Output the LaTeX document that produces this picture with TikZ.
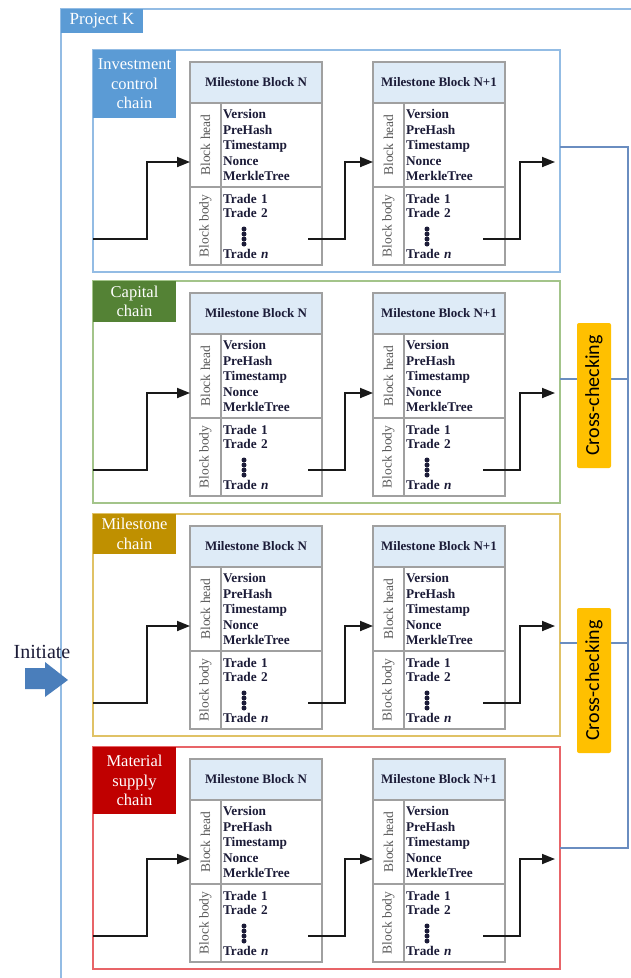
\documentclass[tikz,border=0pt]{standalone}
\usepackage{fontspec}
\setmainfont{Liberation Serif}
\newfontfamily\calfont{Carlito}
\usetikzlibrary{arrows.meta}

\definecolor{frameblue}{HTML}{93BCE4}
\definecolor{tagblue}{HTML}{5B9BD5}
\definecolor{capborder}{HTML}{A3C48A}
\definecolor{captag}{HTML}{548235}
\definecolor{msborder}{HTML}{E0C266}
\definecolor{mstag}{HTML}{BF9000}
\definecolor{matborder}{HTML}{E86468}
\definecolor{mattag}{HTML}{C00000}
\definecolor{linkblue}{HTML}{6A8DC0}
\definecolor{checkorange}{HTML}{FFC000}
\definecolor{hdrfill}{HTML}{DEEBF7}
\definecolor{blockgray}{HTML}{A0A0A0}
\definecolor{sidegray}{HTML}{5A5A5A}
\definecolor{ink}{HTML}{1C1C38}
\definecolor{arrowblue}{HTML}{4A7EBB}

\tikzset{
  every node/.style={inner sep=0pt, outer sep=0pt},
  chainbox/.style={draw=#1, line width=1.6pt, minimum width=467pt,
    minimum height=222pt, anchor=north west},
  chaintag/.style={fill=#1, text=white, anchor=north west, minimum width=83pt,
    align=center, font=\fontsize{16.5}{19.5}\selectfont},
  hdr/.style={draw=blockgray, fill=hdrfill, line width=1.3pt, minimum width=132pt,
    minimum height=41pt, anchor=north west, text=ink,
    font=\bfseries\fontsize{13}{15}\selectfont},
  side/.style={draw=blockgray, line width=1.3pt, minimum width=31pt,
    anchor=north west, text=sidegray, font=\fontsize{13.5}{15}\selectfont},
  fields/.style={draw=blockgray, line width=1.3pt, minimum width=101pt,
    text width=97pt, align=left, anchor=north west, text=ink,
    font=\bfseries\fontsize{13.3}{15.5}\selectfont},
  flow/.style={line width=1.8pt, draw=black!90, -{Triangle[length=13pt,width=10pt]}},
  link/.style={draw=linkblue, line width=1.5pt},
  check/.style={fill=checkorange, rounded corners=2pt, minimum width=145pt,
    minimum height=34pt, font=\calfont\fontsize{20}{24}\selectfont},
}

% one milestone block: #1 name, #2 left x, #3 top y, #4 title
\newcommand\msblock[4]{%
  \node[hdr] (#1-hdr) at (#2,#3) {#4};
  \node[side, minimum height=84pt] (#1-hl) at (#2,#3+41) {\rotatebox{90}{Block head}};
  \node[fields, minimum height=84pt] (#1-hf) at (#2+31,#3+41)
    {Version\\PreHash\\Timestamp\\Nonce\\MerkleTree};
  \node[side, minimum height=78pt] (#1-bl) at (#2,#3+125) {\rotatebox{90}{Block body}};
  \node[fields, minimum height=78pt, font=\bfseries\fontsize{13.3}{14.5}\selectfont]
    (#1-bf) at (#2+31,#3+125) {Trade 1\\Trade 2\\[26pt]Trade \textit{n}};
  \foreach \k in {0,...,3}
    \fill[ink] ([shift={(23,42+5*\k)}]#1-bf.north west) circle (2.5pt);
}

% one chain: #1 name, #2 top y, #3 border, #4 tag fill, #5 tag height, #6 tag text
\newcommand\mychain[6]{%
  \node[chainbox=#3] (#1-box) at (93,#2) {};
  \node[chaintag=#4, minimum height=#5pt] (#1-tag) at (93,#2) {#6};
  \msblock{#1-n}{190}{#2+12}{Milestone Block N}
  \msblock{#1-m}{373}{#2+12}{Milestone Block N+1}
  \coordinate (#1-in) at (93,#2+189);
  \coordinate (#1-o1) at (308,#2+189);
  \coordinate (#1-o2) at (483,#2+189);
  \coordinate (#1-end) at (555,#2+112);
  \draw[flow] (#1-in) -- ++(54,0) |- ([yshift=-17pt]#1-n-hl.west);
  \draw[flow] (#1-o1) -- ++(37,0) |- ([yshift=-17pt]#1-m-hl.west);
  \draw[flow] (#1-o2) -- ++(37,0) |- (#1-end);
}

\begin{document}
\begin{tikzpicture}[x=1pt, y=-1pt]
  \useasboundingbox (0,0) rectangle (631,978);
  \fill[white] (0,0) rectangle (631,978);

  % project frame and its tag
  \draw[frameblue, line width=1.6pt] (640,9) -- (61,9) -- (61,990);
  \node[fill=tagblue, text=white, anchor=north west, minimum width=82pt,
    minimum height=24pt, font=\fontsize{17}{19}\selectfont] (proj) at (61,9) {Project K};

  % the four chains
  \mychain{inv}{50}{frameblue}{tagblue}{68}{Investment\\control\\chain}
  \mychain{cap}{281}{capborder}{captag}{41}{Capital\\chain}
  \mychain{mil}{514}{msborder}{mstag}{40}{Milestone\\chain}
  \mychain{mat}{747}{matborder}{mattag}{67}{Material\\supply\\chain}

  % cross-checking bus on the right
  \coordinate (inv-tap) at (560,147);
  \coordinate (cap-tap) at (560,379);
  \coordinate (mil-tap) at (560,643);
  \coordinate (mat-tap) at (560,848);
  \coordinate (bus-top) at (628,147);
  \coordinate (bus-bot) at (628,848);
  \draw[link] (inv-tap) -- (bus-top) -- (bus-bot) -- (mat-tap);
  \draw[link] (cap-tap) -- (cap-tap -| bus-top);
  \draw[link] (mil-tap) -- (mil-tap -| bus-top);
  \node[check, rotate=90] (check1) at (594,395.5) {Cross-checking};
  \node[check, rotate=90] (check2) at (594,680.5) {Cross-checking};

  % initiate arrow
  \node[text=ink, font=\fontsize{20}{24}\selectfont] (init) at (42,652) {Initiate};
  \fill[arrowblue] (25,668) -- (45,668) -- (45,662) -- (68,680) -- (45,697)
    -- (45,689) -- (25,689) -- cycle;
\end{tikzpicture}
\end{document}
